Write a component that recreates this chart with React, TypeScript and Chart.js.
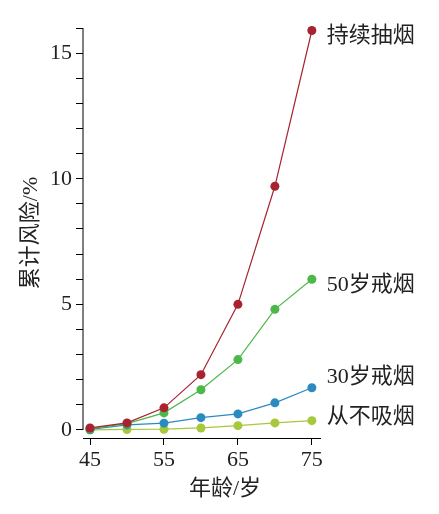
import { useEffect, useRef } from 'react';
import { Chart, registerables } from 'chart.js';

Chart.register(...registerables);

// ages on the x axis
const ages = [45, 50, 55, 60, 65, 70, 75];
const xTicks = [45, 55, 65, 75];
const yTicks = [0, 1, 2, 3, 4, 5, 6, 7, 8, 9, 10, 11, 12, 13, 14, 15, 16];
const yLabels = [0, 5, 10, 15];

// cumulative risk (%) per group
const smoker = [0.08, 0.28, 0.88, 2.2, 5.0, 9.7, 15.9];
const quit50 = [0.05, 0.25, 0.68, 1.6, 2.8, 4.8, 6.0];
const quit30 = [0.02, 0.2, 0.27, 0.49, 0.64, 1.08, 1.68];
const never = [0.0, 0.02, 0.03, 0.08, 0.17, 0.28, 0.37];

const seriesNames = ['持续抽烟', '50岁戒烟', '30岁戒烟', '从不吸烟'];
const seriesColors = ['#a8232f', '#4cb849', '#2b8bbf', '#a7c83b'];
// small vertical nudge (px) for the end labels
const labelNudge = [6, 6, -11, -3];

const FONT = '"Liberation Serif", "Noto Sans CJK SC", serif';
const TEXT = '#222';

const endLabels = {
  id: 'endLabels',
  afterDraw(chart: any) {
    const { ctx, chartArea, scales } = chart;
    const x = scales.x;
    const y = scales.y;
    ctx.save();
    // y axis line, only from 0 to the top
    ctx.strokeStyle = '#000';
    ctx.lineWidth = 1;
    ctx.beginPath();
    ctx.moveTo(chartArea.left, y.getPixelForValue(16));
    ctx.lineTo(chartArea.left, y.getPixelForValue(0));
    ctx.stroke();

    ctx.fillStyle = TEXT;
    ctx.font = `22px ${FONT}`;
    ctx.textBaseline = 'middle';
    ctx.textAlign = 'left';
    chart.data.datasets.forEach((ds: any, i: number) => {
      const last = ds.data[ds.data.length - 1];
      ctx.fillText(
        seriesNames[i],
        x.getPixelForValue(last.x) + 15,
        y.getPixelForValue(last.y) + labelNudge[i]
      );
    });

    // axis titles
    ctx.textAlign = 'center';
    ctx.fillText('年龄/岁', 225, 489);
    ctx.translate(31, (chartArea.top + chartArea.bottom) / 2);
    ctx.rotate(-Math.PI / 2);
    ctx.fillText('累计风险/%', 0, 0);
    ctx.restore();
  },
};

export default function App() {
  const canvasRef = useRef<HTMLCanvasElement>(null);
  const chartRef = useRef<Chart | null>(null);

  useEffect(() => {
    document.body.style.margin = '0';
    if (!canvasRef.current) return;
    if (chartRef.current) {
      chartRef.current.destroy();
      chartRef.current = null;
    }
    const groups = [smoker, quit50, quit30, never];

    chartRef.current = new Chart(canvasRef.current, {
      type: 'line',
      data: {
        datasets: groups.map((vals, i) => ({
          label: seriesNames[i],
          data: vals.map((v, j) => ({ x: ages[j], y: v })),
          borderColor: seriesColors[i],
          backgroundColor: seriesColors[i],
          borderWidth: 1.2,
          pointRadius: 4.5,
          pointBorderWidth: 0,
          fill: false,
          tension: 0,
          clip: false,
        })),
      },
      options: {
        animation: false,
        responsive: true,
        maintainAspectRatio: false,
        layout: { padding: { top: 28, right: 119, bottom: 0, left: 0 } },
        plugins: {
          legend: { display: false },
          tooltip: { enabled: false },
        },
        scales: {
          x: {
            type: 'linear',
            min: 44.05,
            max: 76.1,
            afterBuildTicks: (s: any) => {
              s.ticks = xTicks.map((v) => ({ value: v }));
            },
            afterFit: (s: any) => {
              s.height = 76;
            },
            grid: {
              drawOnChartArea: false,
              drawTicks: true,
              tickLength: 7,
              color: '#000',
            },
            border: { display: true, color: '#000', width: 1 },
            ticks: {
              padding: 2,
              color: TEXT,
              font: { family: FONT, size: 22 },
              maxRotation: 0,
            },
          },
          y: {
            type: 'linear',
            min: -0.32,
            max: 16,
            afterBuildTicks: (s: any) => {
              s.ticks = yTicks.map((v) => ({ value: v }));
            },
            afterFit: (s: any) => {
              s.width = 83;
            },
            grid: {
              drawOnChartArea: false,
              drawTicks: true,
              tickLength: 7,
              color: '#000',
            },
            border: { display: false },
            ticks: {
              padding: 4,
              color: TEXT,
              font: { family: FONT, size: 22 },
              autoSkip: false,
              callback: (v: any) => (yLabels.includes(v) ? String(v) : ''),
            },
          },
        },
      },
      plugins: [endLabels],
    });

    return () => {
      if (chartRef.current) {
        chartRef.current.destroy();
        chartRef.current = null;
      }
    };
  }, []);

  return (
    <div style={{ width: 439, height: 514, position: 'relative' }}>
      <canvas ref={canvasRef} />
    </div>
  );
}
